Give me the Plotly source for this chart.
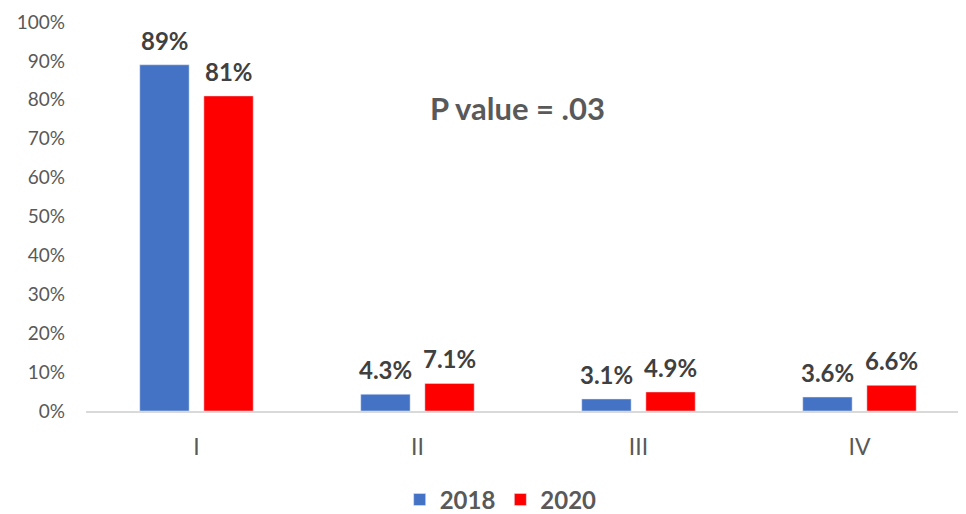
import plotly.graph_objects as go

categories = ['I', 'II', 'III', 'IV']
vals_2018 = [0.89, 0.043, 0.031, 0.036]
vals_2020 = [0.81, 0.071, 0.049, 0.066]
labels_2018 = ['89%', '4.3%', '3.1%', '3.6%']
labels_2020 = ['81%', '7.1%', '4.9%', '6.6%']
y_ticks = [i / 10 for i in range(11)]

FONT = 'Lato, Open Sans, sans-serif'
label_font = dict(family=FONT, size=24, color='#404040', weight='bold')

fig = go.Figure()
fig.add_trace(go.Bar(x=categories, y=vals_2018, name='2018', marker_color='#4472C4'))
fig.add_trace(go.Bar(x=categories, y=vals_2020, name='2020', marker_color='#FF0000'))

# data labels above each bar (offset to the bar's slot within the group)
for vals, labels, dx in [(vals_2018, labels_2018, -32), (vals_2020, labels_2020, 32)]:
    for cat, v, lab in zip(categories, vals, labels):
        fig.add_annotation(x=cat, y=v, text=lab, showarrow=False,
                           xshift=dx, yshift=8, yanchor='bottom',
                           font=label_font)

fig.add_annotation(
    x=0.4876, y=0.779, xref='paper', yref='paper',
    xanchor='center', yanchor='middle',
    text='<b>P value = .03</b>', showarrow=False,
    font=dict(family=FONT, size=31, color='#595959'),
)

# page body adds an 8px offset, margins compensate for it
fig.update_layout(
    width=966, height=514,
    margin=dict(l=78, r=4, t=14, b=111),
    paper_bgcolor='white', plot_bgcolor='white',
    barmode='group', bargap=0.42, bargroupgap=0.23,
    font=dict(family=FONT, color='#595959'),
    showlegend=True,
    legend=dict(orientation='h', xref='container', yref='container',
                x=0.51, xanchor='center', y=0.043, yanchor='middle',
                font=dict(family=FONT, size=24, color='#595959', weight='bold'),
                traceorder='normal'),
)
fig.update_xaxes(
    showline=True, linecolor='#d9d9d9', linewidth=1.5, automargin=False,
    ticks='', tickfont=dict(family=FONT, size=23, color='#595959'),
    ticklabelstandoff=15,
)
fig.update_yaxes(
    range=[0, 1], tickvals=y_ticks, tickformat='.0%', automargin=False,
    showgrid=False, zeroline=False,
    tickfont=dict(family=FONT, size=19, color='#595959'),
    ticklabelstandoff=20,
)

fig.write_html('out.html')
